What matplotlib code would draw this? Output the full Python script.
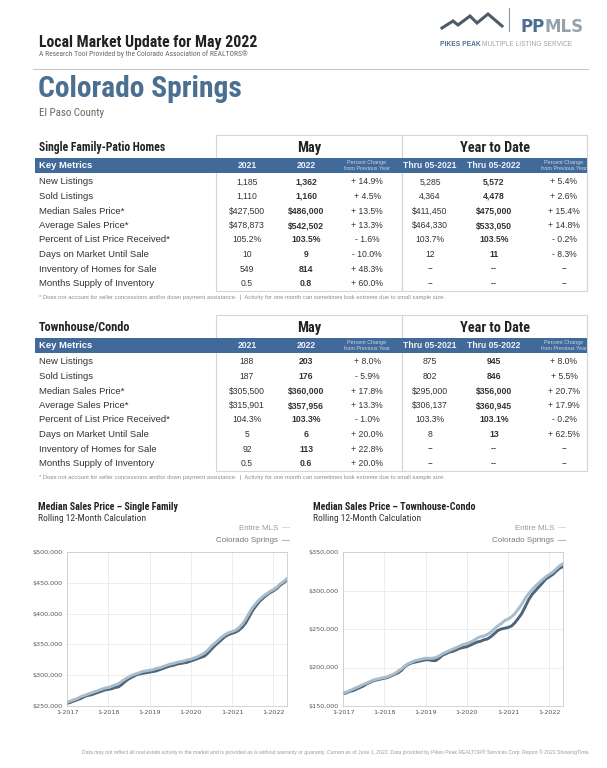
import numpy as np
import pandas as pd
import matplotlib
matplotlib.use('Agg')
import matplotlib.pyplot as plt
from matplotlib.patches import Rectangle
from matplotlib import font_manager
import matplotlib.ticker as mticker

SANS = ['Liberation Sans', 'DejaVu Sans']


def find_font(patterns):
    for pat in patterns:
        for f in font_manager.fontManager.ttflist:
            if pat.lower() in f.fname.lower().replace(' ', ''):
                return font_manager.FontProperties(fname=f.fname)
    return None


# condensed headline font if one is installed, else plain Liberation Sans
NARROW_B = find_font(['LiberationSansNarrow-Bold.', 'RobotoCondensed-Bold.', 'DejaVuSansCondensed-Bold.',
                      'OpenSans_Condensed-Bold', 'OpenSansCondensed-Bold'])
NARROW_R = find_font(['LiberationSansNarrow-Regular.', 'RobotoCondensed-Regular.', 'DejaVuSansCondensed.',
                      'OpenSans_Condensed-Regular', 'OpenSansCondensed-Regular'])
if NARROW_B is None:
    NARROW_B = font_manager.FontProperties(family=SANS, weight='bold')
if NARROW_R is None:
    NARROW_R = font_manager.FontProperties(family=SANS)

# ---- table data ----
metrics = ['New Listings', 'Sold Listings', 'Median Sales Price*', 'Average Sales Price*',
           'Percent of List Price Received*', 'Days on Market Until Sale',
           'Inventory of Homes for Sale', 'Months Supply of Inventory']

sf_may_2021 = ['1,185', '1,110', '$427,500', '$478,873', '105.2%', '10', '549', '0.5']
sf_may_2022 = ['1,362', '1,160', '$486,000', '$542,502', '103.5%', '9', '814', '0.8']
sf_may_pct = ['+ 14.9%', '+ 4.5%', '+ 13.5%', '+ 13.3%', '- 1.6%', '- 10.0%', '+ 48.3%', '+ 60.0%']
sf_ytd_2021 = ['5,285', '4,364', '$411,450', '$464,330', '103.7%', '12', '--', '--']
sf_ytd_2022 = ['5,572', '4,478', '$475,000', '$533,050', '103.5%', '11', '--', '--']
sf_ytd_pct = ['+ 5.4%', '+ 2.6%', '+ 15.4%', '+ 14.8%', '- 0.2%', '- 8.3%', '--', '--']

th_may_2021 = ['188', '187', '$305,500', '$315,901', '104.3%', '5', '92', '0.5']
th_may_2022 = ['203', '176', '$360,000', '$357,956', '103.3%', '6', '113', '0.6']
th_may_pct = ['+ 8.0%', '- 5.9%', '+ 17.8%', '+ 13.3%', '- 1.0%', '+ 20.0%', '+ 22.8%', '+ 20.0%']
th_ytd_2021 = ['875', '802', '$295,000', '$306,137', '103.3%', '8', '--', '--']
th_ytd_2022 = ['945', '846', '$356,000', '$360,945', '103.1%', '13', '--', '--']
th_ytd_pct = ['+ 8.0%', '+ 5.5%', '+ 20.7%', '+ 17.9%', '- 0.2%', '+ 62.5%', '--', '--']

# ---- chart data (rolling 12-month median, thousands of $), 1-2017 .. 5-2022 ----
months = pd.date_range('2017-01-01', '2022-05-01', freq='MS')
sf_cs = [254, 256, 258, 260, 262, 265, 267, 268, 270, 272, 274, 276,
         277, 278, 280, 281, 285, 290, 294, 297, 300, 302, 303, 304,
         305, 306, 307, 309, 311, 313, 315, 316, 318, 319, 320, 321,
         323, 325, 327, 329, 331, 336, 342, 348, 353, 358, 363, 366,
         368, 370, 373, 378, 385, 395, 405, 413, 420, 425, 430, 434,
         437, 441, 446, 450, 455]
sf_mls = [256, 258, 260, 262, 265, 267, 269, 271, 273, 275, 277, 279,
          280, 282, 284, 286, 290, 294, 297, 300, 302, 304, 306, 307,
          308, 309, 311, 312, 314, 316, 318, 319, 321, 322, 323, 325,
          326, 328, 330, 333, 336, 341, 347, 352, 357, 362, 366, 369,
          371, 373, 377, 383, 391, 401, 410, 417, 423, 428, 432, 436,
          439, 443, 448, 452, 457]
th_cs = [166, 167, 169, 170, 172, 174, 176, 179, 181, 183, 184, 185,
         186, 187, 189, 191, 193, 196, 201, 204, 206, 207, 208, 209,
         210, 210, 209, 209, 212, 216, 218, 220, 221, 223, 225, 226,
         227, 229, 231, 233, 234, 236, 237, 240, 244, 248, 250, 251,
         252, 254, 258, 264, 270, 279, 288, 295, 300, 305, 310, 315,
         318, 321, 325, 329, 331]
th_mls = [167, 168, 170, 172, 174, 176, 178, 180, 182, 184, 185, 186,
          187, 188, 190, 192, 195, 198, 202, 205, 207, 209, 210, 211,
          212, 212, 212, 213, 215, 218, 220, 222, 224, 226, 228, 230,
          231, 233, 235, 238, 240, 241, 243, 246, 250, 254, 257, 261,
          263, 266, 270, 276, 282, 290, 296, 301, 306, 310, 314, 318,
          321, 324, 328, 332, 335]

BLUE = '#41699a'
TITLE_BLUE = '#4b6f91'
DARK = '#333333'
CS_COLOR = '#4e6579'
MLS_COLOR = '#a8bccb'

W, H = 607, 768
fig = plt.figure(figsize=(W / 100, H / 100), dpi=100)
bg = fig.add_axes([0, 0, 1, 1])
bg.set_xlim(0, W)
bg.set_ylim(H, 0)
bg.axis('off')
renderer = fig.canvas.get_renderer()


def fit_text(x, y, s, width, size, fp, **kw):
    # headline text: shrink the font until it is no wider than in the reference
    t = bg.text(x, y, s, fontproperties=fp, **kw)
    t.set_fontsize(size)
    w = t.get_window_extent(renderer).width
    if w > width:
        t.set_fontsize(size * width / w)
    return t


# ---- header ----
fit_text(39, 47, 'Local Market Update for May 2022', 220, 12, NARROW_B,
         color='#222222', va='baseline')
fit_text(39, 56, 'A Research Tool Provided by the Colorado Association of REALTORS\u00ae', 208, 6,
         NARROW_R, color='#666666', va='baseline')
bg.plot([33, 588], [69, 69], color='#c8c8c8', lw=0.8)
fit_text(38, 97, 'Colorado Springs', 205, 23, NARROW_B, color=TITLE_BLUE, va='baseline')
fit_text(39, 116, 'El Paso County', 65, 8, NARROW_R, color='#666666', va='baseline')

# logo
bg.plot([442, 453, 458, 470, 477, 488, 502], [28, 21, 25, 16, 23, 14, 26],
        color='#4d5c6a', lw=2.2, solid_joinstyle='miter')
bg.plot([509, 509], [8, 31], color='#8a96a2', lw=0.8)
bg.text(545, 27, 'PP', family=['DejaVu Sans'], fontweight='bold', fontsize=12,
        color='#4d6f8f', ha='right', va='center')
bg.text(545, 27, 'MLS', family=['DejaVu Sans'], fontweight='bold', fontsize=12,
        color='#96a2ad', ha='left', va='center')
bg.text(481, 45, 'PIKES PEAK', family=SANS, fontweight='bold', fontsize=4.8,
        color='#4d6f8f', ha='right', va='center')
bg.text(482, 45, 'MULTIPLE LISTING SERVICE', family=SANS, fontsize=4.8,
        color='#9aa5af', ha='left', va='center')

MAY_X = [247, 306, 367]
YTD_X = [430, 494, 564]


def draw_table(top, title, title_w, c1, c2, c3, c4, c5, c6):
    left, mid, right = 216, 402, 587
    bottom = top + 156
    for x0, x1 in [(left, mid), (mid, right)]:
        bg.add_patch(Rectangle((x0, top), x1 - x0, bottom - top, fill=False,
                               ec='#d2d6da', lw=0.8))
    fit_text(39, top + 16, title, title_w, 9, NARROW_B, color='#222222', va='baseline')
    fit_text((left + mid) / 2, top + 17, 'May', 24, 13, NARROW_B, color='#222222',
             ha='center', va='baseline')
    fit_text((mid + right) / 2, top + 17, 'Year to Date', 70, 13, NARROW_B, color='#222222',
             ha='center', va='baseline')
    # blue header bar
    bar_top = top + 23
    bg.add_patch(Rectangle((35, bar_top), right - 35, 15, color=BLUE, lw=0))
    yc = bar_top + 7.5
    bg.text(39, yc, 'Key Metrics', family=SANS, fontweight='bold', fontsize=6.8,
            color='white', va='center')
    heads = ['2021', '2022', None, 'Thru 05-2021', 'Thru 05-2022', None]
    for x, h in zip(MAY_X + YTD_X, heads):
        if h is None:
            bg.text(x, yc, 'Percent Change\nfrom Previous Year', family=SANS, fontsize=3.9,
                    color='#c9d6e4', ha='center', va='center', linespacing=1.1)
        else:
            bg.text(x, yc, h, family=SANS, fontweight='bold', fontsize=6.2,
                    color='#eef2f7', ha='center', va='center')
    cols = [c1, c2, c3, c4, c5, c6]
    bold = [False, True, False, False, True, False]
    for i, name in enumerate(metrics):
        y = top + 47 + 14.5 * i
        bg.text(39, y, name, family=SANS, fontsize=6.8, color=DARK, va='center')
        for x, col, b in zip(MAY_X + YTD_X, cols, bold):
            bg.text(x, y, col[i], family=SANS, fontsize=6.2, color=DARK, ha='center',
                    va='center', fontweight='bold' if b else 'normal')
    bg.text(39, bottom + 7, '* Does not account for seller concessions and/or down payment '
            'assistance.  |  Activity for one month can sometimes look extreme due to small sample size.',
            family=SANS, fontsize=4.2, color='#8c8c8c', va='center')


draw_table(135, 'Single Family-Patio Homes', 127, sf_may_2021, sf_may_2022, sf_may_pct,
           sf_ytd_2021, sf_ytd_2022, sf_ytd_pct)
draw_table(315, 'Townhouse/Condo', 91, th_may_2021, th_may_2022, th_may_pct,
           th_ytd_2021, th_ytd_2022, th_ytd_pct)


def draw_chart(px_left, px_right, title_x, title, title_w, cs, mls, ymin, ymax):
    top, bottom = 552, 706
    ax = fig.add_axes([px_left / W, 1 - bottom / H, (px_right - px_left) / W, (bottom - top) / H])
    ax.plot(months, np.array(mls) * 1000, color=MLS_COLOR, lw=2.1, zorder=3)
    ax.plot(months, np.array(cs) * 1000, color=CS_COLOR, lw=2.1, zorder=2)
    ax.set_xlim(months[0], months[-1])
    ax.set_ylim(ymin, ymax)
    ax.set_yticks(np.arange(ymin, ymax + 1, 50000))
    ax.yaxis.set_major_formatter(mticker.FuncFormatter(lambda v, p: f'${v:,.0f}'))
    years = pd.date_range('2017-01-01', '2022-01-01', freq='YS')
    ax.set_xticks(years)
    ax.set_xticklabels([f'1-{d.year}' for d in years])
    ax.tick_params(labelsize=4.6, colors='#555555', length=0, pad=3)
    ax.grid(True, color='#e8eaec', lw=0.6)
    for s in ax.spines.values():
        s.set_color('#cccccc')
        s.set_linewidth(0.6)
    fit_text(title_x, 510, title, title_w, 8.5, NARROW_B, color='#222222', va='baseline')
    fit_text(title_x, 521, 'Rolling 12-Month Calculation', 107, 8.5, NARROW_R,
             color='#333333', va='baseline')
    bg.text(px_right - 9, 528, 'Entire MLS', family=SANS, fontsize=5.8, color='#999999',
            ha='right', va='center')
    bg.text(px_right + 3, 528, '\u2014', family=SANS, fontsize=5.8, color=MLS_COLOR,
            ha='right', va='center')
    bg.text(px_right - 9, 541, 'Colorado Springs', family=SANS, fontsize=5.8, color='#777777',
            ha='right', va='center')
    bg.text(px_right + 3, 541, '\u2014', family=SANS, fontsize=5.8, color=CS_COLOR,
            ha='right', va='center')


draw_chart(67, 287, 38, 'Median Sales Price \u2013 Single Family', 139, sf_cs, sf_mls, 250000, 500000)
draw_chart(343, 563, 313, 'Median Sales Price \u2013 Townhouse-Condo', 161, th_cs, th_mls, 150000, 350000)

bg.text(590, 752, 'Data may not reflect all real estate activity in the market and is provided as is '
        'without warranty or guaranty. Current as of June 1, 2022. Data provided by Pikes Peak '
        'REALTOR\u00ae Services Corp. Report \u00a9 2022 ShowingTime.',
        family=SANS, fontsize=3.7, color='#9a9a9a', ha='right', va='center')

fig.savefig('out.png', dpi=100, facecolor='white')
